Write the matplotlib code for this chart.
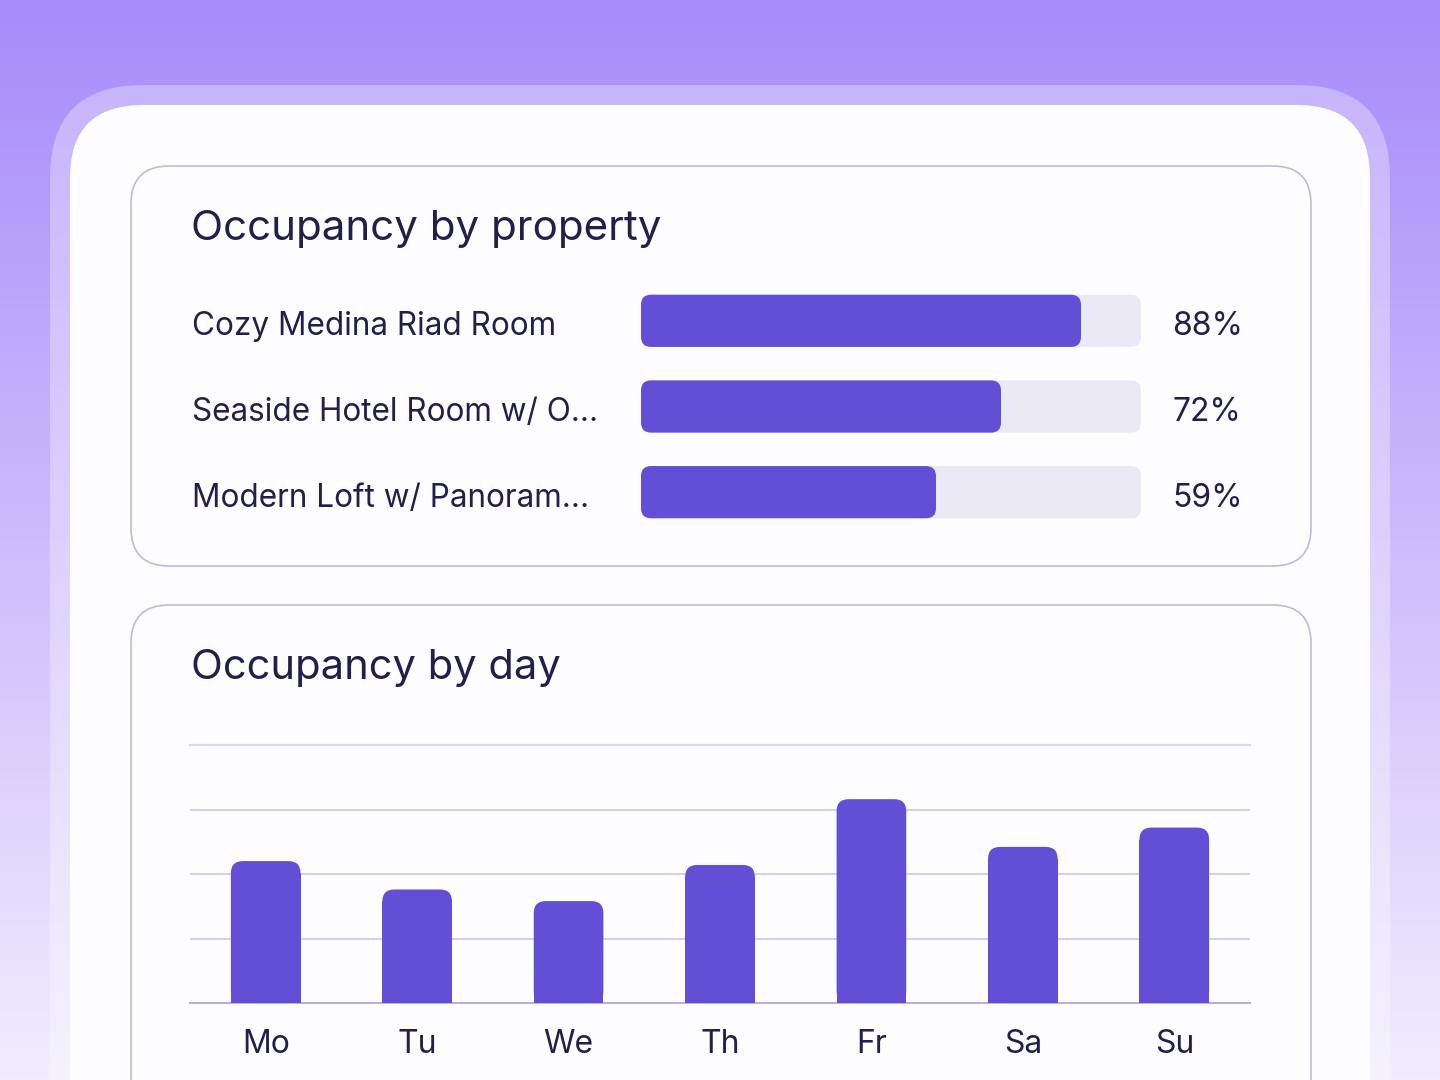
import numpy as np
import matplotlib
matplotlib.use("Agg")
import matplotlib.pyplot as plt
import matplotlib.transforms as mtransforms
from matplotlib.patches import FancyBboxPatch, Rectangle

plt.rcParams["font.family"] = ["Inter", "DejaVu Sans"]

# ---- data ----
property_names = [
    "Cozy Medina Riad Room",
    "Seaside Hotel Room w/ O...",
    "Modern Loft w/ Panoram...",
]
property_occupancy = [88, 72, 59]

day_labels = ["Mo", "Tu", "We", "Th", "Fr", "Sa", "Su"]
day_occupancy = [55, 44, 39.5, 53.5, 79, 60.5, 68]

# ---- style ----
W, H = 1440, 1080
BAR = "#624fd6"
TRACK = "#eae9f5"
TEXT = "#221f4b"
PANEL_EDGE = "#bdbae2"
GRID = "#cac7ea"

fig = plt.figure(figsize=(W / 100, H / 100), dpi=100)


def px_axes(x0, y0, x1, y1):
    # pixel box (top-left origin) -> figure axes
    return fig.add_axes([x0 / W, 1 - y1 / H, (x1 - x0) / W, (y1 - y0) / H])


def rounded(ax, rect, r_px, color, flat_bottom=False, zorder=2):
    x, y, w, h = rect.get_x(), rect.get_y(), rect.get_width(), rect.get_height()
    t = ax.transData
    pxx = abs(t.transform((1, 0))[0] - t.transform((0, 0))[0])
    pxy = abs(t.transform((0, 1))[1] - t.transform((0, 0))[1])
    rx, ry = r_px / pxx, r_px / pxy
    patch = FancyBboxPatch((x, y), w, h,
                           boxstyle=f"round,pad=0,rounding_size={rx}",
                           mutation_aspect=ry / rx, fc=color, ec="none",
                           zorder=zorder)
    ax.add_patch(patch)
    if flat_bottom:
        ax.add_patch(Rectangle((x, y), w, h - ry, fc=color, ec="none",
                               zorder=zorder))
    rect.remove()


# ---- background + cards ----
bg = fig.add_axes([0, 0, 1, 1])
bg.set_xlim(0, W)
bg.set_ylim(H, 0)
bg.axis("off")
top = np.array([167, 139, 250]) / 255
bot = np.array([241, 237, 254]) / 255
grad = np.linspace(0, 1, 256)[:, None, None]
img = top * (1 - grad) + bot * grad
bg.imshow(img, extent=[0, W, H, 0], aspect="auto", zorder=0)

bg.add_patch(FancyBboxPatch((50, 85), 1340, 1200,
                            boxstyle="round,pad=0,rounding_size=93",
                            fc=(1, 1, 1, 0.32), ec="none", zorder=1))
bg.add_patch(FancyBboxPatch((70, 105), 1300, 1200,
                            boxstyle="round,pad=0,rounding_size=73",
                            fc="#fdfdff", ec="none", zorder=2))
for y0, h in [(166, 400), (605, 600)]:
    bg.add_patch(FancyBboxPatch((131, y0), 1180, h,
                                boxstyle="round,pad=0,rounding_size=38",
                                fc="none", ec=PANEL_EDGE, lw=1.2, zorder=3))

bg.text(191, 229, "Occupancy by property", fontsize=30.3, color=TEXT,
        va="center", ha="left", zorder=4)
bg.text(191, 668, "Occupancy by day", fontsize=30, color=TEXT,
        va="center", ha="left", zorder=4)

# ---- occupancy by property ----
ax1 = px_axes(641, 278, 1141, 535)
ax1.set_xlim(0, 100)
ax1.set_ylim(len(property_names) - 0.5, -0.5)
ax1.axis("off")
ypos = np.arange(len(property_names))
tracks = ax1.barh(ypos, [100] * len(ypos), height=0.61)
fills = ax1.barh(ypos, property_occupancy, height=0.61)
for r in tracks:
    rounded(ax1, r, 10, TRACK, zorder=2)
for r in fills:
    rounded(ax1, r, 10, BAR, zorder=3)

lab_tr = mtransforms.blended_transform_factory(fig.transFigure, ax1.transData)
for i, (name, val) in enumerate(zip(property_names, property_occupancy)):
    ax1.text(192 / W, i + 0.07, name, transform=lab_tr, fontsize=22.7,
             color=TEXT, va="center", ha="left")
    ax1.text(1172 / W, i + 0.07, f"{val}%", transform=lab_tr, fontsize=23,
             color=TEXT, va="center", ha="left")

# ---- occupancy by day ----
ax2 = px_axes(190, 745, 1250, 1003)
ax2.set_xlim(-0.5, len(day_labels) - 0.5)
ax2.set_ylim(0, 100)
ax2.patch.set_alpha(0)
for s in ax2.spines.values():
    s.set_visible(False)
ax2.set_yticks([0, 25, 50, 75, 100])
ax2.set_yticklabels([])
ax2.tick_params(axis="y", length=0)
ax2.grid(axis="y", color=GRID, lw=1.2, zorder=0)
ax2.set_axisbelow(True)
ax2.axhline(0, color="#b3afd9", lw=1.4, zorder=1, clip_on=False)
ax2.axhline(100, color="#dad9f0", lw=1.6, zorder=1, clip_on=False)

xpos = np.arange(len(day_labels))
bars = ax2.bar(xpos, day_occupancy, width=0.46)
for r in bars:
    rounded(ax2, r, 12, BAR, flat_bottom=True, zorder=3)
ax2.set_xticks(xpos)
ax2.set_xticklabels(day_labels, fontsize=23, color=TEXT)
ax2.tick_params(axis="x", length=0, pad=19)

fig.savefig("out.png", dpi=100)
